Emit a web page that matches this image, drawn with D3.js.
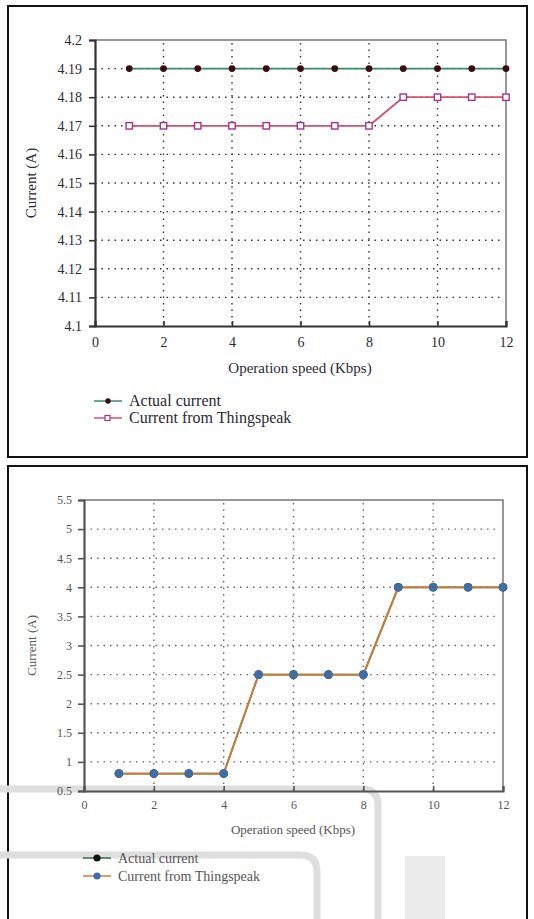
<!DOCTYPE html>
<html>
<head>
<meta charset="utf-8">
<script src="https://cdn.jsdelivr.net/npm/d3@7"></script>
<style>
  body { margin: 0; background: #fff; }
  svg { display: block; }
  text { font-family: "Liberation Serif", "DejaVu Serif", serif; }
</style>
</head>
<body>
<svg id="chart" width="534" height="919"></svg>
<script>
// ---- data ----
const speeds = [1, 2, 3, 4, 5, 6, 7, 8, 9, 10, 11, 12];

// panel 1
const actualTop = [4.19, 4.19, 4.19, 4.19, 4.19, 4.19, 4.19, 4.19, 4.19, 4.19, 4.19, 4.19];
const thingTop = [4.17, 4.17, 4.17, 4.17, 4.17, 4.17, 4.17, 4.17, 4.18, 4.18, 4.18, 4.18];
const yTicksTop = [4.1, 4.11, 4.12, 4.13, 4.14, 4.15, 4.16, 4.17, 4.18, 4.19, 4.2];

// panel 2
const actualBottom = [0.8, 0.8, 0.8, 0.8, 2.5, 2.5, 2.5, 2.5, 4, 4, 4, 4];
const thingBottom = [0.8, 0.8, 0.8, 0.8, 2.5, 2.5, 2.5, 2.5, 4, 4, 4, 4];
const yTicksBottom = [0.5, 1, 1.5, 2, 2.5, 3, 3.5, 4, 4.5, 5, 5.5];

const xTicks = [0, 2, 4, 6, 8, 10, 12];
const seriesNames = ["Actual current", "Current from Thingspeak"];

const svg = d3.select("#chart");

// outer frames
svg.append("rect").attr("x", 8).attr("y", 6).attr("width", 519).attr("height", 451)
  .attr("fill", "none").attr("stroke", "#111").attr("stroke-width", 2);
svg.append("rect").attr("x", 8).attr("y", 466).attr("width", 519).attr("height", 460)
  .attr("fill", "none").attr("stroke", "#111").attr("stroke-width", 2);

function panel(opt) {
  const g = svg.append("g");
  const x = d3.scaleLinear().domain([0, 12]).range([opt.left, opt.right]);
  const y = d3.scaleLinear().domain(opt.yDomain).range([opt.bottom, opt.top]);

  // grid
  g.append("g").selectAll("line").data(opt.yTicks.slice(1, -1)).join("line")
    .attr("x1", opt.left).attr("x2", opt.right - 4)
    .attr("y1", d => y(d)).attr("y2", d => y(d))
    .attr("stroke", opt.gridColor).attr("stroke-width", 1.4)
    .attr("stroke-dasharray", "1.5,5");
  g.append("g").selectAll("line").data(xTicks.slice(1, -1)).join("line")
    .attr("x1", d => x(d)).attr("x2", d => x(d))
    .attr("y1", opt.top + 3).attr("y2", opt.bottom)
    .attr("stroke", opt.gridColor).attr("stroke-width", 1.4)
    .attr("stroke-dasharray", "1.5,5");

  // box top/right
  g.append("path")
    .attr("d", `M${opt.left},${opt.top}H${opt.right}V${opt.bottom}`)
    .attr("fill", "none").attr("stroke", "#777").attr("stroke-width", 1.5);

  // axes
  const yAxis = d3.axisLeft(y).tickValues(opt.yTicks).tickSize(6).tickPadding(opt.yPad)
    .tickFormat(d3.format(opt.yFormat));
  const ga = g.append("g").attr("transform", `translate(${opt.left},0)`).call(yAxis);
  ga.attr("font-size", opt.fs).attr("font-family", "Liberation Serif, serif");
  ga.select(".domain").attr("stroke", opt.axisColor).attr("stroke-width", 2.2);
  ga.selectAll(".tick line").attr("stroke", opt.axisColor).attr("stroke-width", 1.6);
  ga.selectAll(".tick text").attr("fill", opt.textColor);

  const xAxis = d3.axisBottom(x).tickValues(xTicks).tickSize(-5).tickPadding(opt.xPad)
    .tickFormat(d3.format("d"));
  const gx = g.append("g").attr("transform", `translate(0,${opt.bottom})`).call(xAxis);
  gx.attr("font-size", opt.fs).attr("font-family", "Liberation Serif, serif");
  gx.select(".domain").attr("stroke", opt.axisColor).attr("stroke-width", 2.2);
  gx.selectAll(".tick line").attr("stroke", opt.axisColor).attr("stroke-width", 1.6);
  gx.selectAll(".tick text").attr("fill", opt.textColor);

  // titles
  g.append("text").attr("x", opt.xTitleX).attr("y", opt.xTitleY)
    .attr("text-anchor", "middle").attr("fill", opt.textColor)
    .style("font-size", opt.tfs + "px").text("Operation speed (Kbps)");
  g.append("text")
    .attr("transform", `translate(${opt.yTitleX},${(opt.top + opt.bottom) / 2}) rotate(-90)`)
    .attr("text-anchor", "middle").attr("fill", opt.textColor)
    .style("font-size", opt.tfs + "px").text("Current (A)");

  // series
  const line = d3.line().x((d, i) => x(speeds[i])).y(d => y(d));
  opt.series.forEach(s => {
    g.append("path").datum(s.values).attr("d", line)
      .attr("fill", "none").attr("stroke", s.lineColor).attr("stroke-width", 1.8);
    const m = g.append("g").selectAll(".m").data(s.values).join(s.shape === "square" ? "rect" : "circle");
    if (s.shape === "square") {
      m.attr("x", (d, i) => x(speeds[i]) - 3.2).attr("y", d => y(d) - 3.2)
        .attr("width", 6.4).attr("height", 6.4)
        .attr("fill", "#fff").attr("stroke", s.markColor).attr("stroke-width", 1.4);
    } else {
      m.attr("cx", (d, i) => x(speeds[i])).attr("cy", d => y(d)).attr("r", s.r)
        .attr("fill", s.markColor);
    }
  });

  // legend
  opt.series.forEach((s, i) => {
    const ly = opt.legendY + i * opt.legendGap;
    g.append("line").attr("x1", opt.legendX).attr("x2", opt.legendX + 28)
      .attr("y1", ly).attr("y2", ly).attr("stroke", s.lineColor).attr("stroke-width", 1.5);
    if (s.shape === "square") {
      g.append("rect").attr("x", opt.legendX + 11).attr("y", ly - 2.5).attr("width", 5).attr("height", 5)
        .attr("fill", "#fff").attr("stroke", s.markColor).attr("stroke-width", 1.2);
    } else {
      g.append("circle").attr("cx", opt.legendX + 14).attr("cy", ly).attr("r", s.r - 0.7)
        .attr("fill", s.markColor);
    }
    g.append("text").attr("x", opt.legendX + 35).attr("y", ly + 4.5)
      .attr("fill", opt.textColor).style("font-size", opt.lfs + "px").text(seriesNames[i]);
  });
}

panel({
  left: 95, right: 506, top: 40, bottom: 326,
  yDomain: [4.1, 4.2], yTicks: yTicksTop, yFormat: "",
  fs: 14, tfs: 15, lfs: 16, xPad: 11, yPad: 7, textColor: "#2a2a35", axisColor: "#333", gridColor: "#333",
  xTitleX: 300, xTitleY: 373, yTitleX: 36, legendX: 94, legendY: 401, legendGap: 17,
  series: [
    { values: actualTop, lineColor: "#3d8a6a", markColor: "#3a0d0d", shape: "circle", r: 3.4 },
    { values: thingTop, lineColor: "#d4556f", markColor: "#a0368c", shape: "square" }
  ]
});

// faint watermark bands in the lower panel
const wm = svg.append("g").attr("fill", "none").attr("stroke", "#dedede");
wm.append("path").attr("d", "M0,789H362Q378,789 378,805V919").attr("stroke-width", 7);
wm.append("path").attr("d", "M0,855H300Q317,855 317,872V919").attr("stroke-width", 7);
wm.append("rect").attr("x", 405).attr("y", 856).attr("width", 40).attr("height", 63)
  .attr("fill", "#ebebeb").attr("stroke", "none");

panel({
  left: 84, right: 503, top: 500, bottom: 791,
  yDomain: [0.5, 5.5], yTicks: yTicksBottom, yFormat: "",
  fs: 12, tfs: 13, lfs: 14, xPad: 9, yPad: 6, textColor: "#555", axisColor: "#555", gridColor: "#666",
  xTitleX: 293, xTitleY: 834, yTitleX: 36, legendX: 83, legendY: 858, legendGap: 18,
  series: [
    { values: actualBottom, lineColor: "#2f6b3c", markColor: "#111", shape: "circle", r: 4.3 },
    { values: thingBottom, lineColor: "#d07a3a", markColor: "#3f6ea5", shape: "circle", r: 4.3 }
  ]
});
</script>
</body>
</html>
